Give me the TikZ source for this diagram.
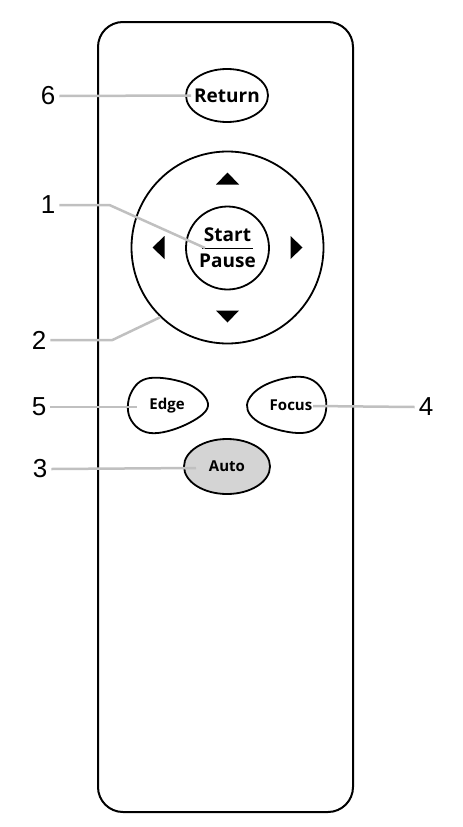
\documentclass[tikz,border=0pt]{standalone}
\usepackage{fontspec}
\setmainfont{Liberation Sans}
\newfontfamily\keyfont{Open Sans}
\usetikzlibrary{shapes.geometric, calc}
\definecolor{leadergray}{RGB}{192,192,192}
\definecolor{autogray}{RGB}{212,212,212}

\begin{document}
\begin{tikzpicture}[x=1pt, y=-1pt,
    button/.style={ellipse, draw, line width=1.8pt, inner sep=0pt},
    keytext/.style={font=\keyfont\bfseries\fontsize{15}{15}\selectfont, inner sep=0pt},
    bigtext/.style={font=\keyfont\bfseries\fontsize{19}{26}\selectfont, inner sep=0pt, align=center},
    leader/.style={draw=leadergray, line width=2.5pt},
    num/.style={font=\fontsize{26}{26}\selectfont, inner sep=4pt}]

    \useasboundingbox (0,0) rectangle (463,827);

    % Remote body
    \draw[line width=2pt, rounded corners=25pt] (98,22) rectangle (353,812);

    % Return button
    \node[button, minimum width=82pt, minimum height=53pt,
          label={[bigtext]center:Return}] (ret) at (227,95.5) {};

    % Direction pad
    \node[circle, draw, line width=1.8pt, minimum size=192pt, inner sep=0pt] (pad) at (227.5,247.5) {};
    \foreach \a in {0,90,180,270}
        \fill ($(pad.center)+(\a:75)$) -- ($(pad.center)+(\a:63)+(\a+90:11.5)$)
            -- ($(pad.center)+(\a:63)+(\a-90:11.5)$) -- cycle;

    % Start / Pause
    \node[circle, draw, line width=1.8pt, minimum size=83pt, inner sep=0pt,
          label={[bigtext]center:Start\\Pause}] (sp) at (227.5,248) {};
    \draw[line width=0.8pt] ($(sp.center)+(-25.5,0)$) -- ($(sp.center)+(25.5,0)$);

    % Edge and Focus
    \draw[line width=1.8pt] plot[smooth cycle, tension=0.65] coordinates
        {(208,406) (190,385) (150,378) (131,393) (130,418) (150,433) (185,425)};
    \node[keytext] (edge) at (167,406) {Edge};
    \draw[line width=1.8pt] plot[smooth cycle, tension=0.65] coordinates
        {(247,405) (265,385) (303,377) (324,393) (323,420) (302,433) (262,424)};
    \node[keytext] (focus) at (291,405) {Focus};

    % Auto button
    \node[button, fill=autogray, minimum width=86pt, minimum height=55pt,
          label={[keytext]center:Auto}] (auto) at (227,466.5) {};

    % Leader ends
    \coordinate (retpt) at ($(ret.west)+(6,0)$);
    \coordinate (sppt) at ($(sp.center)+(-22.5,0)$);
    \coordinate (edgept) at (137,407);
    \coordinate (focuspt) at (313,406);
    \coordinate (autopt) at ($(auto.center)+(-31,1.5)$);

    % Numbers
    \node[num] (n6) at (48,96) {6};
    \node[num] (n1) at (48,205) {1};
    \node[num] (n2) at (39,340) {2};
    \node[num] (n5) at (39,407) {5};
    \node[num] (n3) at (40,469) {3};
    \node[num] (n4) at (426,407) {4};

    % Leaders
    \draw[leader] (n6.east) -- (retpt);
    \draw[leader] (n1.east) -- ++(50,0) -- (sppt);
    \draw[leader] (n2.east) -- ++(62,0) -- (pad.226);
    \draw[leader] (n5.east) -- (edgept);
    \draw[leader] (n3.east) -- (autopt);
    \draw[leader] (n4.west) -- (focuspt);
\end{tikzpicture}
\end{document}
